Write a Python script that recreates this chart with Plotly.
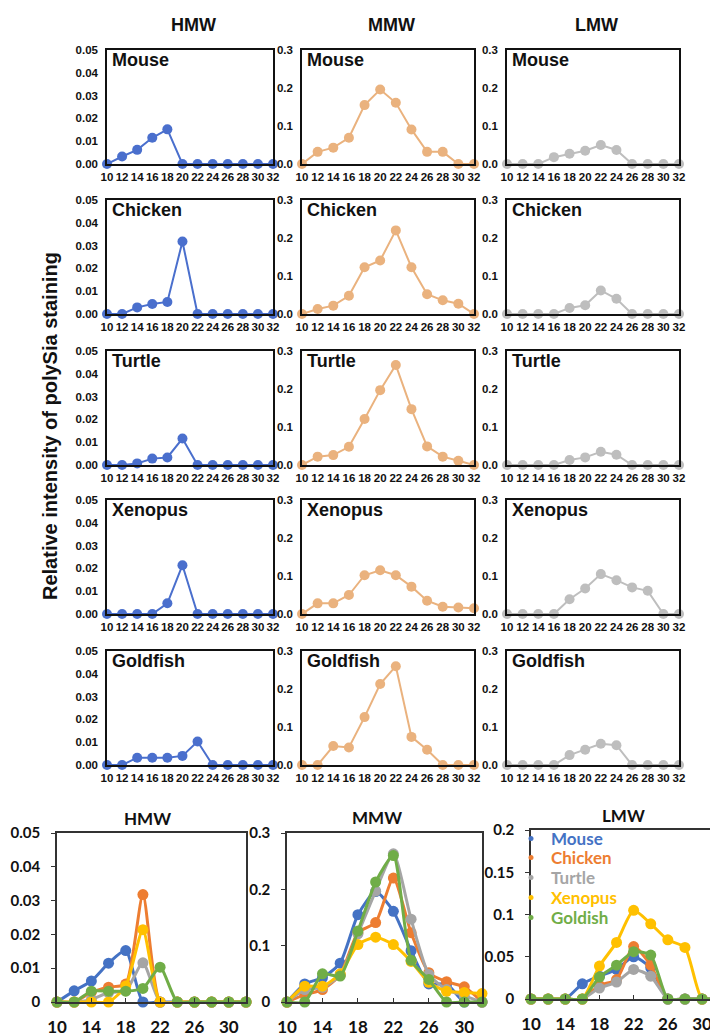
import plotly.graph_objects as go

# ---------------- data ----------------
fractions = [10, 12, 14, 16, 18, 20, 22, 24, 26, 28, 30, 32]
species = ["Mouse", "Chicken", "Turtle", "Xenopus", "Goldfish"]
legend_names = ["Mouse", "Chicken", "Turtle", "Xenopus", "Goldish"]

hmw_mouse = [0, 0.0033, 0.0062, 0.0115, 0.0152, 0, 0, 0, 0, 0, 0, 0]
hmw_chicken = [0, 0, 0.0029, 0.0044, 0.0053, 0.0318, 0, 0, 0, 0, 0, 0]
hmw_turtle = [0, 0, 0.0007, 0.0028, 0.0033, 0.0116, 0, 0, 0, 0, 0, 0]
hmw_xenopus = [0, 0, 0, 0, 0.0047, 0.0214, 0, 0, 0, 0, 0, 0]
hmw_goldfish = [0, 0, 0.0032, 0.0032, 0.0032, 0.0040, 0.0103, 0, 0, 0, 0, 0]

mmw_mouse = [0, 0.032, 0.043, 0.069, 0.155, 0.196, 0.161, 0.091, 0.032, 0.032, 0, 0]
mmw_chicken = [0, 0.013, 0.022, 0.048, 0.123, 0.141, 0.220, 0.123, 0.052, 0.036, 0.027, 0]
mmw_turtle = [0, 0.022, 0.026, 0.048, 0.121, 0.197, 0.263, 0.147, 0.049, 0.022, 0.011, 0]
mmw_xenopus = [0, 0.028, 0.028, 0.050, 0.102, 0.115, 0.102, 0.072, 0.035, 0.019, 0.017, 0.015]
mmw_goldfish = [0, 0, 0.050, 0.046, 0.126, 0.213, 0.260, 0.074, 0.040, 0, 0, 0]

lmw_mouse = [0, 0, 0, 0.018, 0.027, 0.035, 0.050, 0.037, 0, 0, 0, 0]
lmw_chicken = [0, 0, 0, 0, 0.016, 0.023, 0.062, 0.040, 0, 0, 0, 0]
lmw_turtle = [0, 0, 0, 0, 0.013, 0.020, 0.035, 0.027, 0, 0, 0, 0]
lmw_xenopus = [0, 0, 0, 0, 0.039, 0.067, 0.105, 0.089, 0.070, 0.061, 0, 0]
lmw_goldfish = [0, 0, 0, 0, 0.026, 0.040, 0.056, 0.052, 0, 0, 0, 0]

hmw_series = [hmw_mouse, hmw_chicken, hmw_turtle, hmw_xenopus, hmw_goldfish]
mmw_series = [mmw_mouse, mmw_chicken, mmw_turtle, mmw_xenopus, mmw_goldfish]
lmw_series = [lmw_mouse, lmw_chicken, lmw_turtle, lmw_xenopus, lmw_goldfish]

panel_titles = ["HMW", "MMW", "LMW"]

top_hmw_ticks = [0, 0.01, 0.02, 0.03, 0.04, 0.05]
top_mw_ticks = [0, 0.1, 0.2, 0.3]
bottom_x_ticks = [10, 14, 18, 22, 26, 30]
bottom_hmw_ticks = [0, 0.01, 0.02, 0.03, 0.04, 0.05]
bottom_hmw_labels = ["0", "0.01", "0.02", "0.03", "0.04", "0.05"]
bottom_mmw_ticks = [0, 0.1, 0.2, 0.3]
bottom_mmw_labels = ["0", "0.1", "0.2", "0.3"]
bottom_lmw_ticks = [0, 0.05, 0.1, 0.15, 0.2]
bottom_lmw_labels = ["0", "0.05", "0.1", "0.15", "0.2"]

# ---------------- styling ----------------
W, H = 718, 1036
OFF = 8  # page body margin: screen position = paper position + 8
TOP_FONT = "Liberation Sans, Arial, sans-serif"
BOT_FONT = "Lato, Open Sans, sans-serif"
top_colors = ["#4a6fcd", "#eab27e", "#bebebe"]
species_colors = ["#4472C4", "#ED7D31", "#A5A5A5", "#FFC000", "#70AD47"]

top_cols = [(107, 273), (302, 474), (507, 679)]
row_tops = [50, 200, 351, 500, 651]
row_h = 114

fig = go.Figure()
layout = dict(
    template="none",
    width=W, height=H, margin=dict(l=0, r=0, t=0, b=0, autoexpand=False),
    plot_bgcolor="white", paper_bgcolor="white", showlegend=True,
)
annotations = []


def sx(s):
    return (s - OFF) / W


def sy(s):
    return 1 - (s - OFF) / H


def xd(a, b):
    return [max(sx(a), 0.0), min(sx(b), 1.0)]


def yd(top, bottom):
    return [sy(bottom), sy(top)]


k = 0
for r, sp in enumerate(species):
    for c, series in enumerate([hmw_series, mmw_series, lmw_series]):
        k += 1
        xa = "x" if k == 1 else f"x{k}"
        ya = "y" if k == 1 else f"y{k}"
        fig.add_trace(go.Scatter(
            x=fractions, y=series[r], xaxis=xa, yaxis=ya, mode="lines+markers",
            line=dict(color=top_colors[c], width=2),
            marker=dict(color=top_colors[c], size=10),
            cliponaxis=False, showlegend=False, name=sp,
        ))
        x0, x1 = top_cols[c]
        t0 = row_tops[r]
        axis_common = dict(showline=True, linecolor="#111", linewidth=1.5, mirror=True,
                           showgrid=False, zeroline=False, ticks="", automargin=False,
                           tickangle=0,
                           tickfont=dict(family=TOP_FONT, size=11.5, color="#111", weight="bold"))
        layout["xaxis" if k == 1 else f"xaxis{k}"] = dict(
            domain=xd(x0, x1), anchor=ya, range=[10, 32],
            tickmode="array", tickvals=fractions, ticklabelstandoff=1, **axis_common)
        if c == 0:
            yt = dict(range=[0, 0.05], tickmode="array", tickvals=top_hmw_ticks, tickformat=".2f")
        else:
            yt = dict(range=[0, 0.3], tickmode="array", tickvals=top_mw_ticks, tickformat=".1f")
        layout["yaxis" if k == 1 else f"yaxis{k}"] = dict(
            domain=yd(t0, t0 + row_h), anchor=xa, ticklabelstandoff=5, **yt, **axis_common)
        annotations.append(dict(
            text=sp, xref=f"{xa} domain", yref=f"{ya} domain", x=0, y=1.0,
            xanchor="left", yanchor="top", xshift=3, yshift=2, showarrow=False,
            font=dict(family=TOP_FONT, size=18, color="#111", weight="bold")))

# column titles (top)
for c, (x0, x1) in enumerate(top_cols):
    annotations.append(dict(
        text=panel_titles[c], xref="paper", yref="paper", x=sx((x0 + x1) / 2 + 3), y=sy(25),
        xanchor="center", yanchor="middle", showarrow=False,
        font=dict(family=TOP_FONT, size=18, color="#111", weight="bold")))

annotations.append(dict(
    text="Relative intensity of polySia staining", xref="paper", yref="paper",
    x=sx(50), y=sy(426), textangle=-90, xanchor="center", yanchor="middle", showarrow=False,
    font=dict(family=TOP_FONT, size=20, color="#111", weight="bold")))

# ---------------- bottom overlay panels ----------------
bottom_specs = [
    (hmw_series, (57, 246), (833, 1002), [10, 32], bottom_hmw_ticks, bottom_hmw_labels, [0, 0.05], 147, 818),
    (mmw_series, (287, 482), (833, 1002), [10, 32], bottom_mmw_ticks, bottom_mmw_labels, [0, 0.3], 377, 817),
    (lmw_series, (531, 726), (830, 999), [10, 32.8], bottom_lmw_ticks, bottom_lmw_labels, [0, 0.2], 623, 815),
]
for j, (series, (x0, x1), (t0, b0), xr, yticks, ylabels, yr, tx, ty) in enumerate(bottom_specs):
    k += 1
    xa, ya = f"x{k}", f"y{k}"
    for s_i, name in enumerate(legend_names):
        fig.add_trace(go.Scatter(
            x=fractions, y=series[s_i], xaxis=xa, yaxis=ya, mode="lines+markers",
            line=dict(color=species_colors[s_i], width=3, shape="spline", smoothing=0.6),
            marker=dict(color=species_colors[s_i], size=11),
            cliponaxis=False, showlegend=False, name=name,
        ))
    common = dict(showline=True, linecolor="#333", linewidth=1.5, mirror=True,
                  showgrid=False, zeroline=False, automargin=False, tickangle=0)
    layout[f"xaxis{k}"] = dict(
        domain=xd(x0, x1), anchor=ya, range=xr, tickmode="array", tickvals=bottom_x_ticks,
        ticks="inside", ticklen=4, tickcolor="#333", ticklabelstandoff=9,
        tickfont=dict(family=BOT_FONT, size=17, color="#111", weight="bold"), **common)
    layout[f"yaxis{k}"] = dict(
        domain=yd(t0, b0), anchor=xa, range=yr, tickmode="array", tickvals=yticks, ticktext=ylabels,
        ticks="outside", ticklen=4, tickcolor="#333", ticklabelstandoff=8,
        tickfont=dict(family=BOT_FONT, size=15, color="#111", weight="bold"), **common)
    annotations.append(dict(
        text=panel_titles[j], xref="paper", yref="paper", x=sx(tx), y=sy(ty),
        xanchor="center", yanchor="middle", showarrow=False,
        font=dict(family=BOT_FONT, size=17, color="#111", weight="bold")))

# legend (one per item for exact placement, inside the bottom LMW panel)
legend_y = [839, 858, 878, 898, 918]
for s_i, name in enumerate(legend_names):
    lname = "legend" if s_i == 0 else f"legend{s_i + 1}"
    fig.add_trace(go.Scatter(
        x=[None], y=[None], xaxis=f"x{k}", yaxis=f"y{k}", mode="markers",
        marker=dict(color=species_colors[s_i], size=5), name=name,
        showlegend=True, legend=lname))
    layout[lname] = dict(
        x=sx(511), y=sy(legend_y[s_i]), xanchor="left", yanchor="middle",
        bgcolor="rgba(0,0,0,0)", borderwidth=0, itemwidth=30,
        font=dict(family=BOT_FONT, size=17, color=species_colors[s_i], weight="bold"))

layout["annotations"] = annotations
fig.update_layout(**layout)
fig.write_html("out.html")
